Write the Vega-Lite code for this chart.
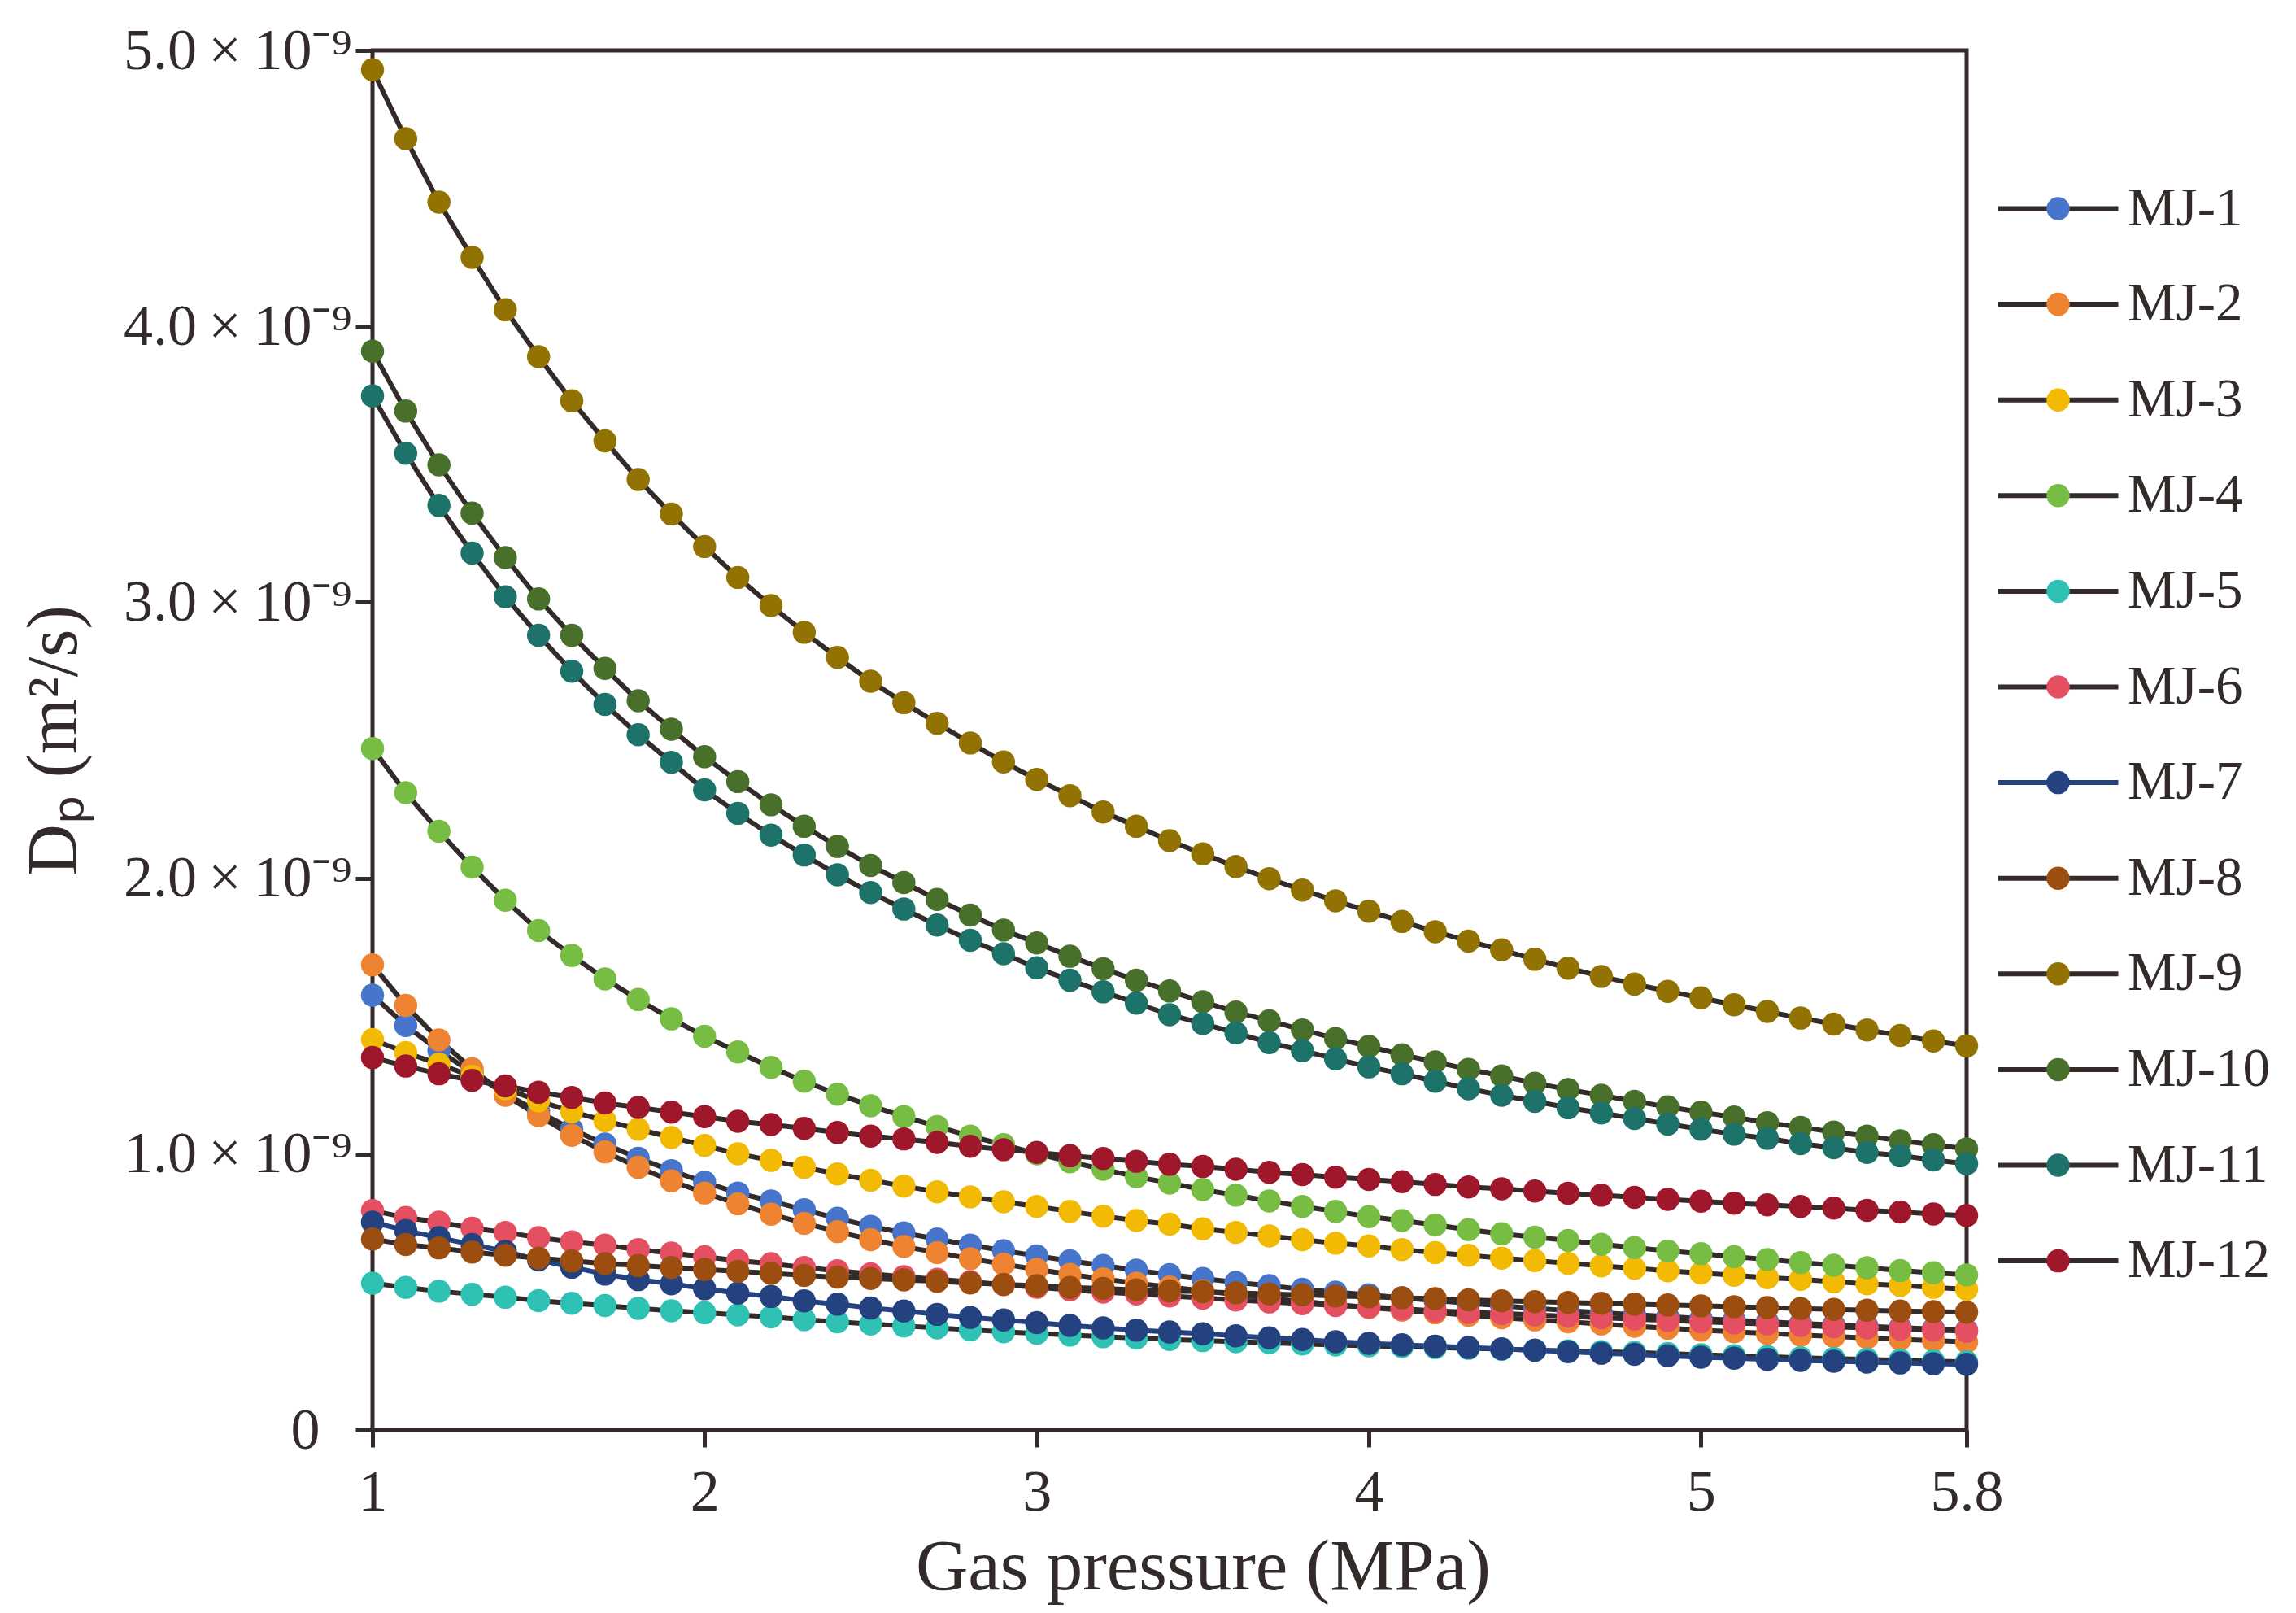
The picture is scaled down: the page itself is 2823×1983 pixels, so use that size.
{
  "$schema": "https://vega.github.io/schema/vega-lite/v6.json",
  "width": 1960,
  "height": 1696,
  "autosize": "none",
  "padding": {"left": 458, "top": 62, "right": 405, "bottom": 225},
  "background": "white",
  "config": {
    "font": "Liberation Serif",
    "view": {"stroke": "#332B2A", "strokeWidth": 5},
    "axis": {
      "domain": false,
      "grid": false,
      "tickColor": "#332B2A",
      "tickWidth": 5,
      "tickSize": 21,
      "labelFont": "Liberation Serif",
      "labelColor": "#332B2A",
      "labelFontSize": 72,
      "labelLimit": 0,
      "titleFont": "Liberation Serif",
      "titleColor": "#332B2A",
      "titleFontSize": 88,
      "titleFontWeight": "normal"
    },
    "legend": {
      "labelFont": "Liberation Serif",
      "labelColor": "#332B2A",
      "labelFontSize": 67,
      "labelLimit": 0,
      "padding": 0,
      "rowPadding": 49.6
    }
  },
  "data": {
    "values": [
      {"series":"MJ-1","pressure":1.0,"D":1.576e-9},{"series":"MJ-1","pressure":1.1,"D":1.466e-9},{"series":"MJ-1","pressure":1.2,"D":1.375e-9},{"series":"MJ-1","pressure":1.3,"D":1.295e-9},{"series":"MJ-1","pressure":1.4,"D":1.218e-9},{"series":"MJ-1","pressure":1.5,"D":1.154e-9},{"series":"MJ-1","pressure":1.6,"D":1.090e-9},{"series":"MJ-1","pressure":1.7,"D":1.036e-9},{"series":"MJ-1","pressure":1.8,"D":0.985e-9},{"series":"MJ-1","pressure":1.9,"D":0.940e-9},
      {"series":"MJ-1","pressure":2.0,"D":0.898e-9},{"series":"MJ-1","pressure":2.1,"D":0.859e-9},{"series":"MJ-1","pressure":2.2,"D":0.830e-9},{"series":"MJ-1","pressure":2.3,"D":0.798e-9},{"series":"MJ-1","pressure":2.4,"D":0.767e-9},{"series":"MJ-1","pressure":2.5,"D":0.738e-9},{"series":"MJ-1","pressure":2.6,"D":0.714e-9},{"series":"MJ-1","pressure":2.7,"D":0.692e-9},{"series":"MJ-1","pressure":2.8,"D":0.670e-9},{"series":"MJ-1","pressure":2.9,"D":0.650e-9},
      {"series":"MJ-1","pressure":3.0,"D":0.631e-9},{"series":"MJ-1","pressure":3.1,"D":0.613e-9},{"series":"MJ-1","pressure":3.2,"D":0.596e-9},{"series":"MJ-1","pressure":3.3,"D":0.579e-9},{"series":"MJ-1","pressure":3.4,"D":0.563e-9},{"series":"MJ-1","pressure":3.5,"D":0.549e-9},{"series":"MJ-1","pressure":3.6,"D":0.535e-9},{"series":"MJ-1","pressure":3.7,"D":0.523e-9},{"series":"MJ-1","pressure":3.8,"D":0.510e-9},{"series":"MJ-1","pressure":3.9,"D":0.500e-9},
      {"series":"MJ-1","pressure":4.0,"D":0.490e-9},{"series":"MJ-1","pressure":4.1,"D":0.479e-9},{"series":"MJ-1","pressure":4.2,"D":0.469e-9},{"series":"MJ-1","pressure":4.3,"D":0.459e-9},{"series":"MJ-1","pressure":4.4,"D":0.450e-9},{"series":"MJ-1","pressure":4.5,"D":0.441e-9},{"series":"MJ-1","pressure":4.6,"D":0.433e-9},{"series":"MJ-1","pressure":4.7,"D":0.425e-9},{"series":"MJ-1","pressure":4.8,"D":0.418e-9},{"series":"MJ-1","pressure":4.9,"D":0.411e-9},
      {"series":"MJ-1","pressure":5.0,"D":0.404e-9},{"series":"MJ-1","pressure":5.1,"D":0.398e-9},{"series":"MJ-1","pressure":5.2,"D":0.392e-9},{"series":"MJ-1","pressure":5.3,"D":0.386e-9},{"series":"MJ-1","pressure":5.4,"D":0.381e-9},{"series":"MJ-1","pressure":5.5,"D":0.376e-9},{"series":"MJ-1","pressure":5.6,"D":0.371e-9},{"series":"MJ-1","pressure":5.7,"D":0.366e-9},{"series":"MJ-1","pressure":5.8,"D":0.362e-9},

      {"series":"MJ-2","pressure":1.0,"D":1.686e-9},{"series":"MJ-2","pressure":1.1,"D":1.539e-9},{"series":"MJ-2","pressure":1.2,"D":1.414e-9},{"series":"MJ-2","pressure":1.3,"D":1.309e-9},{"series":"MJ-2","pressure":1.4,"D":1.213e-9},{"series":"MJ-2","pressure":1.5,"D":1.139e-9},{"series":"MJ-2","pressure":1.6,"D":1.068e-9},{"series":"MJ-2","pressure":1.7,"D":1.008e-9},{"series":"MJ-2","pressure":1.8,"D":0.952e-9},{"series":"MJ-2","pressure":1.9,"D":0.903e-9},
      {"series":"MJ-2","pressure":2.0,"D":0.859e-9},{"series":"MJ-2","pressure":2.1,"D":0.820e-9},{"series":"MJ-2","pressure":2.2,"D":0.782e-9},{"series":"MJ-2","pressure":2.3,"D":0.749e-9},{"series":"MJ-2","pressure":2.4,"D":0.719e-9},{"series":"MJ-2","pressure":2.5,"D":0.690e-9},{"series":"MJ-2","pressure":2.6,"D":0.665e-9},{"series":"MJ-2","pressure":2.7,"D":0.643e-9},{"series":"MJ-2","pressure":2.8,"D":0.621e-9},{"series":"MJ-2","pressure":2.9,"D":0.601e-9},
      {"series":"MJ-2","pressure":3.0,"D":0.582e-9},{"series":"MJ-2","pressure":3.1,"D":0.564e-9},{"series":"MJ-2","pressure":3.2,"D":0.548e-9},{"series":"MJ-2","pressure":3.3,"D":0.532e-9},{"series":"MJ-2","pressure":3.4,"D":0.518e-9},{"series":"MJ-2","pressure":3.5,"D":0.504e-9},{"series":"MJ-2","pressure":3.6,"D":0.491e-9},{"series":"MJ-2","pressure":3.7,"D":0.478e-9},{"series":"MJ-2","pressure":3.8,"D":0.466e-9},{"series":"MJ-2","pressure":3.9,"D":0.455e-9},
      {"series":"MJ-2","pressure":4.0,"D":0.444e-9},{"series":"MJ-2","pressure":4.1,"D":0.434e-9},{"series":"MJ-2","pressure":4.2,"D":0.425e-9},{"series":"MJ-2","pressure":4.3,"D":0.416e-9},{"series":"MJ-2","pressure":4.4,"D":0.407e-9},{"series":"MJ-2","pressure":4.5,"D":0.399e-9},{"series":"MJ-2","pressure":4.6,"D":0.392e-9},{"series":"MJ-2","pressure":4.7,"D":0.384e-9},{"series":"MJ-2","pressure":4.8,"D":0.376e-9},{"series":"MJ-2","pressure":4.9,"D":0.369e-9},
      {"series":"MJ-2","pressure":5.0,"D":0.362e-9},{"series":"MJ-2","pressure":5.1,"D":0.356e-9},{"series":"MJ-2","pressure":5.2,"D":0.350e-9},{"series":"MJ-2","pressure":5.3,"D":0.344e-9},{"series":"MJ-2","pressure":5.4,"D":0.339e-9},{"series":"MJ-2","pressure":5.5,"D":0.334e-9},{"series":"MJ-2","pressure":5.6,"D":0.329e-9},{"series":"MJ-2","pressure":5.7,"D":0.324e-9},{"series":"MJ-2","pressure":5.8,"D":0.319e-9},

      {"series":"MJ-3","pressure":1.0,"D":1.415e-9},{"series":"MJ-3","pressure":1.1,"D":1.368e-9},{"series":"MJ-3","pressure":1.2,"D":1.326e-9},{"series":"MJ-3","pressure":1.3,"D":1.282e-9},{"series":"MJ-3","pressure":1.4,"D":1.237e-9},{"series":"MJ-3","pressure":1.5,"D":1.193e-9},{"series":"MJ-3","pressure":1.6,"D":1.154e-9},{"series":"MJ-3","pressure":1.7,"D":1.121e-9},{"series":"MJ-3","pressure":1.8,"D":1.090e-9},{"series":"MJ-3","pressure":1.9,"D":1.060e-9},
      {"series":"MJ-3","pressure":2.0,"D":1.031e-9},{"series":"MJ-3","pressure":2.1,"D":1.001e-9},{"series":"MJ-3","pressure":2.2,"D":0.977e-9},{"series":"MJ-3","pressure":2.3,"D":0.952e-9},{"series":"MJ-3","pressure":2.4,"D":0.928e-9},{"series":"MJ-3","pressure":2.5,"D":0.905e-9},{"series":"MJ-3","pressure":2.6,"D":0.884e-9},{"series":"MJ-3","pressure":2.7,"D":0.863e-9},{"series":"MJ-3","pressure":2.8,"D":0.845e-9},{"series":"MJ-3","pressure":2.9,"D":0.827e-9},
      {"series":"MJ-3","pressure":3.0,"D":0.810e-9},{"series":"MJ-3","pressure":3.1,"D":0.792e-9},{"series":"MJ-3","pressure":3.2,"D":0.775e-9},{"series":"MJ-3","pressure":3.3,"D":0.759e-9},{"series":"MJ-3","pressure":3.4,"D":0.746e-9},{"series":"MJ-3","pressure":3.5,"D":0.729e-9},{"series":"MJ-3","pressure":3.6,"D":0.716e-9},{"series":"MJ-3","pressure":3.7,"D":0.703e-9},{"series":"MJ-3","pressure":3.8,"D":0.690e-9},{"series":"MJ-3","pressure":3.9,"D":0.677e-9},
      {"series":"MJ-3","pressure":4.0,"D":0.667e-9},{"series":"MJ-3","pressure":4.1,"D":0.654e-9},{"series":"MJ-3","pressure":4.2,"D":0.643e-9},{"series":"MJ-3","pressure":4.3,"D":0.633e-9},{"series":"MJ-3","pressure":4.4,"D":0.623e-9},{"series":"MJ-3","pressure":4.5,"D":0.614e-9},{"series":"MJ-3","pressure":4.6,"D":0.604e-9},{"series":"MJ-3","pressure":4.7,"D":0.595e-9},{"series":"MJ-3","pressure":4.8,"D":0.586e-9},{"series":"MJ-3","pressure":4.9,"D":0.577e-9},
      {"series":"MJ-3","pressure":5.0,"D":0.569e-9},{"series":"MJ-3","pressure":5.1,"D":0.561e-9},{"series":"MJ-3","pressure":5.2,"D":0.552e-9},{"series":"MJ-3","pressure":5.3,"D":0.546e-9},{"series":"MJ-3","pressure":5.4,"D":0.537e-9},{"series":"MJ-3","pressure":5.5,"D":0.530e-9},{"series":"MJ-3","pressure":5.6,"D":0.524e-9},{"series":"MJ-3","pressure":5.7,"D":0.517e-9},{"series":"MJ-3","pressure":5.8,"D":0.510e-9},

      {"series":"MJ-4","pressure":1.0,"D":2.470e-9},{"series":"MJ-4","pressure":1.1,"D":2.310e-9},{"series":"MJ-4","pressure":1.2,"D":2.170e-9},{"series":"MJ-4","pressure":1.3,"D":2.040e-9},{"series":"MJ-4","pressure":1.4,"D":1.920e-9},{"series":"MJ-4","pressure":1.5,"D":1.810e-9},{"series":"MJ-4","pressure":1.6,"D":1.720e-9},{"series":"MJ-4","pressure":1.7,"D":1.635e-9},{"series":"MJ-4","pressure":1.8,"D":1.560e-9},{"series":"MJ-4","pressure":1.9,"D":1.490e-9},
      {"series":"MJ-4","pressure":2.0,"D":1.427e-9},{"series":"MJ-4","pressure":2.1,"D":1.370e-9},{"series":"MJ-4","pressure":2.2,"D":1.314e-9},{"series":"MJ-4","pressure":2.3,"D":1.264e-9},{"series":"MJ-4","pressure":2.4,"D":1.217e-9},{"series":"MJ-4","pressure":2.5,"D":1.175e-9},{"series":"MJ-4","pressure":2.6,"D":1.136e-9},{"series":"MJ-4","pressure":2.7,"D":1.100e-9},{"series":"MJ-4","pressure":2.8,"D":1.065e-9},{"series":"MJ-4","pressure":2.9,"D":1.034e-9},
      {"series":"MJ-4","pressure":3.0,"D":1.001e-9},{"series":"MJ-4","pressure":3.1,"D":0.972e-9},{"series":"MJ-4","pressure":3.2,"D":0.945e-9},{"series":"MJ-4","pressure":3.3,"D":0.918e-9},{"series":"MJ-4","pressure":3.4,"D":0.895e-9},{"series":"MJ-4","pressure":3.5,"D":0.871e-9},{"series":"MJ-4","pressure":3.6,"D":0.851e-9},{"series":"MJ-4","pressure":3.7,"D":0.830e-9},{"series":"MJ-4","pressure":3.8,"D":0.810e-9},{"series":"MJ-4","pressure":3.9,"D":0.792e-9},
      {"series":"MJ-4","pressure":4.0,"D":0.773e-9},{"series":"MJ-4","pressure":4.1,"D":0.759e-9},{"series":"MJ-4","pressure":4.2,"D":0.743e-9},{"series":"MJ-4","pressure":4.3,"D":0.726e-9},{"series":"MJ-4","pressure":4.4,"D":0.711e-9},{"series":"MJ-4","pressure":4.5,"D":0.699e-9},{"series":"MJ-4","pressure":4.6,"D":0.687e-9},{"series":"MJ-4","pressure":4.7,"D":0.673e-9},{"series":"MJ-4","pressure":4.8,"D":0.661e-9},{"series":"MJ-4","pressure":4.9,"D":0.649e-9},
      {"series":"MJ-4","pressure":5.0,"D":0.639e-9},{"series":"MJ-4","pressure":5.1,"D":0.628e-9},{"series":"MJ-4","pressure":5.2,"D":0.618e-9},{"series":"MJ-4","pressure":5.3,"D":0.607e-9},{"series":"MJ-4","pressure":5.4,"D":0.597e-9},{"series":"MJ-4","pressure":5.5,"D":0.588e-9},{"series":"MJ-4","pressure":5.6,"D":0.578e-9},{"series":"MJ-4","pressure":5.7,"D":0.570e-9},{"series":"MJ-4","pressure":5.8,"D":0.562e-9},

      {"series":"MJ-5","pressure":1.0,"D":0.532e-9},{"series":"MJ-5","pressure":1.1,"D":0.517e-9},{"series":"MJ-5","pressure":1.2,"D":0.503e-9},{"series":"MJ-5","pressure":1.3,"D":0.492e-9},{"series":"MJ-5","pressure":1.4,"D":0.481e-9},{"series":"MJ-5","pressure":1.5,"D":0.469e-9},{"series":"MJ-5","pressure":1.6,"D":0.459e-9},{"series":"MJ-5","pressure":1.7,"D":0.451e-9},{"series":"MJ-5","pressure":1.8,"D":0.441e-9},{"series":"MJ-5","pressure":1.9,"D":0.432e-9},
      {"series":"MJ-5","pressure":2.0,"D":0.425e-9},{"series":"MJ-5","pressure":2.1,"D":0.417e-9},{"series":"MJ-5","pressure":2.2,"D":0.410e-9},{"series":"MJ-5","pressure":2.3,"D":0.400e-9},{"series":"MJ-5","pressure":2.4,"D":0.392e-9},{"series":"MJ-5","pressure":2.5,"D":0.384e-9},{"series":"MJ-5","pressure":2.6,"D":0.377e-9},{"series":"MJ-5","pressure":2.7,"D":0.370e-9},{"series":"MJ-5","pressure":2.8,"D":0.363e-9},{"series":"MJ-5","pressure":2.9,"D":0.356e-9},
      {"series":"MJ-5","pressure":3.0,"D":0.350e-9},{"series":"MJ-5","pressure":3.1,"D":0.344e-9},{"series":"MJ-5","pressure":3.2,"D":0.338e-9},{"series":"MJ-5","pressure":3.3,"D":0.333e-9},{"series":"MJ-5","pressure":3.4,"D":0.328e-9},{"series":"MJ-5","pressure":3.5,"D":0.324e-9},{"series":"MJ-5","pressure":3.6,"D":0.320e-9},{"series":"MJ-5","pressure":3.7,"D":0.316e-9},{"series":"MJ-5","pressure":3.8,"D":0.312e-9},{"series":"MJ-5","pressure":3.9,"D":0.308e-9},
      {"series":"MJ-5","pressure":4.0,"D":0.305e-9},{"series":"MJ-5","pressure":4.1,"D":0.302e-9},{"series":"MJ-5","pressure":4.2,"D":0.299e-9},{"series":"MJ-5","pressure":4.3,"D":0.296e-9},{"series":"MJ-5","pressure":4.4,"D":0.293e-9},{"series":"MJ-5","pressure":4.5,"D":0.290e-9},{"series":"MJ-5","pressure":4.6,"D":0.287e-9},{"series":"MJ-5","pressure":4.7,"D":0.284e-9},{"series":"MJ-5","pressure":4.8,"D":0.281e-9},{"series":"MJ-5","pressure":4.9,"D":0.277e-9},
      {"series":"MJ-5","pressure":5.0,"D":0.273e-9},{"series":"MJ-5","pressure":5.1,"D":0.269e-9},{"series":"MJ-5","pressure":5.2,"D":0.266e-9},{"series":"MJ-5","pressure":5.3,"D":0.262e-9},{"series":"MJ-5","pressure":5.4,"D":0.259e-9},{"series":"MJ-5","pressure":5.5,"D":0.256e-9},{"series":"MJ-5","pressure":5.6,"D":0.253e-9},{"series":"MJ-5","pressure":5.7,"D":0.250e-9},{"series":"MJ-5","pressure":5.8,"D":0.247e-9},

      {"series":"MJ-6","pressure":1.0,"D":0.795e-9},{"series":"MJ-6","pressure":1.1,"D":0.770e-9},{"series":"MJ-6","pressure":1.2,"D":0.753e-9},{"series":"MJ-6","pressure":1.3,"D":0.731e-9},{"series":"MJ-6","pressure":1.4,"D":0.716e-9},{"series":"MJ-6","pressure":1.5,"D":0.697e-9},{"series":"MJ-6","pressure":1.6,"D":0.682e-9},{"series":"MJ-6","pressure":1.7,"D":0.670e-9},{"series":"MJ-6","pressure":1.8,"D":0.654e-9},{"series":"MJ-6","pressure":1.9,"D":0.641e-9},
      {"series":"MJ-6","pressure":2.0,"D":0.628e-9},{"series":"MJ-6","pressure":2.1,"D":0.614e-9},{"series":"MJ-6","pressure":2.2,"D":0.603e-9},{"series":"MJ-6","pressure":2.3,"D":0.589e-9},{"series":"MJ-6","pressure":2.4,"D":0.577e-9},{"series":"MJ-6","pressure":2.5,"D":0.566e-9},{"series":"MJ-6","pressure":2.6,"D":0.556e-9},{"series":"MJ-6","pressure":2.7,"D":0.546e-9},{"series":"MJ-6","pressure":2.8,"D":0.537e-9},{"series":"MJ-6","pressure":2.9,"D":0.527e-9},
      {"series":"MJ-6","pressure":3.0,"D":0.517e-9},{"series":"MJ-6","pressure":3.1,"D":0.508e-9},{"series":"MJ-6","pressure":3.2,"D":0.500e-9},{"series":"MJ-6","pressure":3.3,"D":0.493e-9},{"series":"MJ-6","pressure":3.4,"D":0.486e-9},{"series":"MJ-6","pressure":3.5,"D":0.478e-9},{"series":"MJ-6","pressure":3.6,"D":0.471e-9},{"series":"MJ-6","pressure":3.7,"D":0.464e-9},{"series":"MJ-6","pressure":3.8,"D":0.458e-9},{"series":"MJ-6","pressure":3.9,"D":0.451e-9},
      {"series":"MJ-6","pressure":4.0,"D":0.446e-9},{"series":"MJ-6","pressure":4.1,"D":0.439e-9},{"series":"MJ-6","pressure":4.2,"D":0.432e-9},{"series":"MJ-6","pressure":4.3,"D":0.427e-9},{"series":"MJ-6","pressure":4.4,"D":0.422e-9},{"series":"MJ-6","pressure":4.5,"D":0.417e-9},{"series":"MJ-6","pressure":4.6,"D":0.412e-9},{"series":"MJ-6","pressure":4.7,"D":0.407e-9},{"series":"MJ-6","pressure":4.8,"D":0.402e-9},{"series":"MJ-6","pressure":4.9,"D":0.397e-9},
      {"series":"MJ-6","pressure":5.0,"D":0.392e-9},{"series":"MJ-6","pressure":5.1,"D":0.388e-9},{"series":"MJ-6","pressure":5.2,"D":0.384e-9},{"series":"MJ-6","pressure":5.3,"D":0.379e-9},{"series":"MJ-6","pressure":5.4,"D":0.374e-9},{"series":"MJ-6","pressure":5.5,"D":0.370e-9},{"series":"MJ-6","pressure":5.6,"D":0.366e-9},{"series":"MJ-6","pressure":5.7,"D":0.362e-9},{"series":"MJ-6","pressure":5.8,"D":0.358e-9},

      {"series":"MJ-7","pressure":1.0,"D":0.753e-9},{"series":"MJ-7","pressure":1.1,"D":0.723e-9},{"series":"MJ-7","pressure":1.2,"D":0.697e-9},{"series":"MJ-7","pressure":1.3,"D":0.672e-9},{"series":"MJ-7","pressure":1.4,"D":0.647e-9},{"series":"MJ-7","pressure":1.5,"D":0.616e-9},{"series":"MJ-7","pressure":1.6,"D":0.590e-9},{"series":"MJ-7","pressure":1.7,"D":0.565e-9},{"series":"MJ-7","pressure":1.8,"D":0.545e-9},{"series":"MJ-7","pressure":1.9,"D":0.530e-9},
      {"series":"MJ-7","pressure":2.0,"D":0.512e-9},{"series":"MJ-7","pressure":2.1,"D":0.496e-9},{"series":"MJ-7","pressure":2.2,"D":0.484e-9},{"series":"MJ-7","pressure":2.3,"D":0.468e-9},{"series":"MJ-7","pressure":2.4,"D":0.456e-9},{"series":"MJ-7","pressure":2.5,"D":0.442e-9},{"series":"MJ-7","pressure":2.6,"D":0.431e-9},{"series":"MJ-7","pressure":2.7,"D":0.419e-9},{"series":"MJ-7","pressure":2.8,"D":0.408e-9},{"series":"MJ-7","pressure":2.9,"D":0.399e-9},
      {"series":"MJ-7","pressure":3.0,"D":0.389e-9},{"series":"MJ-7","pressure":3.1,"D":0.379e-9},{"series":"MJ-7","pressure":3.2,"D":0.370e-9},{"series":"MJ-7","pressure":3.3,"D":0.362e-9},{"series":"MJ-7","pressure":3.4,"D":0.355e-9},{"series":"MJ-7","pressure":3.5,"D":0.349e-9},{"series":"MJ-7","pressure":3.6,"D":0.341e-9},{"series":"MJ-7","pressure":3.7,"D":0.334e-9},{"series":"MJ-7","pressure":3.8,"D":0.328e-9},{"series":"MJ-7","pressure":3.9,"D":0.320e-9},
      {"series":"MJ-7","pressure":4.0,"D":0.314e-9},{"series":"MJ-7","pressure":4.1,"D":0.309e-9},{"series":"MJ-7","pressure":4.2,"D":0.304e-9},{"series":"MJ-7","pressure":4.3,"D":0.299e-9},{"series":"MJ-7","pressure":4.4,"D":0.294e-9},{"series":"MJ-7","pressure":4.5,"D":0.289e-9},{"series":"MJ-7","pressure":4.6,"D":0.284e-9},{"series":"MJ-7","pressure":4.7,"D":0.278e-9},{"series":"MJ-7","pressure":4.8,"D":0.274e-9},{"series":"MJ-7","pressure":4.9,"D":0.269e-9},
      {"series":"MJ-7","pressure":5.0,"D":0.264e-9},{"series":"MJ-7","pressure":5.1,"D":0.260e-9},{"series":"MJ-7","pressure":5.2,"D":0.256e-9},{"series":"MJ-7","pressure":5.3,"D":0.252e-9},{"series":"MJ-7","pressure":5.4,"D":0.249e-9},{"series":"MJ-7","pressure":5.5,"D":0.246e-9},{"series":"MJ-7","pressure":5.6,"D":0.243e-9},{"series":"MJ-7","pressure":5.7,"D":0.240e-9},{"series":"MJ-7","pressure":5.8,"D":0.238e-9},

      {"series":"MJ-8","pressure":1.0,"D":0.692e-9},{"series":"MJ-8","pressure":1.1,"D":0.672e-9},{"series":"MJ-8","pressure":1.2,"D":0.660e-9},{"series":"MJ-8","pressure":1.3,"D":0.645e-9},{"series":"MJ-8","pressure":1.4,"D":0.633e-9},{"series":"MJ-8","pressure":1.5,"D":0.623e-9},{"series":"MJ-8","pressure":1.6,"D":0.613e-9},{"series":"MJ-8","pressure":1.7,"D":0.603e-9},{"series":"MJ-8","pressure":1.8,"D":0.596e-9},{"series":"MJ-8","pressure":1.9,"D":0.589e-9},
      {"series":"MJ-8","pressure":2.0,"D":0.582e-9},{"series":"MJ-8","pressure":2.1,"D":0.575e-9},{"series":"MJ-8","pressure":2.2,"D":0.568e-9},{"series":"MJ-8","pressure":2.3,"D":0.560e-9},{"series":"MJ-8","pressure":2.4,"D":0.554e-9},{"series":"MJ-8","pressure":2.5,"D":0.549e-9},{"series":"MJ-8","pressure":2.6,"D":0.544e-9},{"series":"MJ-8","pressure":2.7,"D":0.539e-9},{"series":"MJ-8","pressure":2.8,"D":0.533e-9},{"series":"MJ-8","pressure":2.9,"D":0.528e-9},
      {"series":"MJ-8","pressure":3.0,"D":0.523e-9},{"series":"MJ-8","pressure":3.1,"D":0.517e-9},{"series":"MJ-8","pressure":3.2,"D":0.513e-9},{"series":"MJ-8","pressure":3.3,"D":0.508e-9},{"series":"MJ-8","pressure":3.4,"D":0.504e-9},{"series":"MJ-8","pressure":3.5,"D":0.501e-9},{"series":"MJ-8","pressure":3.6,"D":0.497e-9},{"series":"MJ-8","pressure":3.7,"D":0.493e-9},{"series":"MJ-8","pressure":3.8,"D":0.490e-9},{"series":"MJ-8","pressure":3.9,"D":0.486e-9},
      {"series":"MJ-8","pressure":4.0,"D":0.483e-9},{"series":"MJ-8","pressure":4.1,"D":0.479e-9},{"series":"MJ-8","pressure":4.2,"D":0.476e-9},{"series":"MJ-8","pressure":4.3,"D":0.472e-9},{"series":"MJ-8","pressure":4.4,"D":0.468e-9},{"series":"MJ-8","pressure":4.5,"D":0.465e-9},{"series":"MJ-8","pressure":4.6,"D":0.462e-9},{"series":"MJ-8","pressure":4.7,"D":0.459e-9},{"series":"MJ-8","pressure":4.8,"D":0.456e-9},{"series":"MJ-8","pressure":4.9,"D":0.453e-9},
      {"series":"MJ-8","pressure":5.0,"D":0.450e-9},{"series":"MJ-8","pressure":5.1,"D":0.447e-9},{"series":"MJ-8","pressure":5.2,"D":0.444e-9},{"series":"MJ-8","pressure":5.3,"D":0.440e-9},{"series":"MJ-8","pressure":5.4,"D":0.437e-9},{"series":"MJ-8","pressure":5.5,"D":0.434e-9},{"series":"MJ-8","pressure":5.6,"D":0.431e-9},{"series":"MJ-8","pressure":5.7,"D":0.429e-9},{"series":"MJ-8","pressure":5.8,"D":0.427e-9},

      {"series":"MJ-9","pressure":1.0,"D":4.930e-9},{"series":"MJ-9","pressure":1.1,"D":4.680e-9},{"series":"MJ-9","pressure":1.2,"D":4.450e-9},{"series":"MJ-9","pressure":1.3,"D":4.250e-9},{"series":"MJ-9","pressure":1.4,"D":4.060e-9},{"series":"MJ-9","pressure":1.5,"D":3.890e-9},{"series":"MJ-9","pressure":1.6,"D":3.730e-9},{"series":"MJ-9","pressure":1.7,"D":3.585e-9},{"series":"MJ-9","pressure":1.8,"D":3.445e-9},{"series":"MJ-9","pressure":1.9,"D":3.320e-9},
      {"series":"MJ-9","pressure":2.0,"D":3.202e-9},{"series":"MJ-9","pressure":2.1,"D":3.090e-9},{"series":"MJ-9","pressure":2.2,"D":2.988e-9},{"series":"MJ-9","pressure":2.3,"D":2.891e-9},{"series":"MJ-9","pressure":2.4,"D":2.800e-9},{"series":"MJ-9","pressure":2.5,"D":2.714e-9},{"series":"MJ-9","pressure":2.6,"D":2.636e-9},{"series":"MJ-9","pressure":2.7,"D":2.561e-9},{"series":"MJ-9","pressure":2.8,"D":2.490e-9},{"series":"MJ-9","pressure":2.9,"D":2.421e-9},
      {"series":"MJ-9","pressure":3.0,"D":2.358e-9},{"series":"MJ-9","pressure":3.1,"D":2.299e-9},{"series":"MJ-9","pressure":3.2,"D":2.240e-9},{"series":"MJ-9","pressure":3.3,"D":2.188e-9},{"series":"MJ-9","pressure":3.4,"D":2.136e-9},{"series":"MJ-9","pressure":3.5,"D":2.088e-9},{"series":"MJ-9","pressure":3.6,"D":2.042e-9},{"series":"MJ-9","pressure":3.7,"D":1.998e-9},{"series":"MJ-9","pressure":3.8,"D":1.957e-9},{"series":"MJ-9","pressure":3.9,"D":1.918e-9},
      {"series":"MJ-9","pressure":4.0,"D":1.880e-9},{"series":"MJ-9","pressure":4.1,"D":1.843e-9},{"series":"MJ-9","pressure":4.2,"D":1.806e-9},{"series":"MJ-9","pressure":4.3,"D":1.772e-9},{"series":"MJ-9","pressure":4.4,"D":1.740e-9},{"series":"MJ-9","pressure":4.5,"D":1.706e-9},{"series":"MJ-9","pressure":4.6,"D":1.674e-9},{"series":"MJ-9","pressure":4.7,"D":1.644e-9},{"series":"MJ-9","pressure":4.8,"D":1.616e-9},{"series":"MJ-9","pressure":4.9,"D":1.590e-9},
      {"series":"MJ-9","pressure":5.0,"D":1.566e-9},{"series":"MJ-9","pressure":5.1,"D":1.541e-9},{"series":"MJ-9","pressure":5.2,"D":1.517e-9},{"series":"MJ-9","pressure":5.3,"D":1.493e-9},{"series":"MJ-9","pressure":5.4,"D":1.471e-9},{"series":"MJ-9","pressure":5.5,"D":1.450e-9},{"series":"MJ-9","pressure":5.6,"D":1.430e-9},{"series":"MJ-9","pressure":5.7,"D":1.410e-9},{"series":"MJ-9","pressure":5.8,"D":1.392e-9},

      {"series":"MJ-10","pressure":1.0,"D":3.910e-9},{"series":"MJ-10","pressure":1.1,"D":3.693e-9},{"series":"MJ-10","pressure":1.2,"D":3.498e-9},{"series":"MJ-10","pressure":1.3,"D":3.323e-9},{"series":"MJ-10","pressure":1.4,"D":3.162e-9},{"series":"MJ-10","pressure":1.5,"D":3.012e-9},{"series":"MJ-10","pressure":1.6,"D":2.880e-9},{"series":"MJ-10","pressure":1.7,"D":2.760e-9},{"series":"MJ-10","pressure":1.8,"D":2.643e-9},{"series":"MJ-10","pressure":1.9,"D":2.540e-9},
      {"series":"MJ-10","pressure":2.0,"D":2.440e-9},{"series":"MJ-10","pressure":2.1,"D":2.350e-9},{"series":"MJ-10","pressure":2.2,"D":2.266e-9},{"series":"MJ-10","pressure":2.3,"D":2.188e-9},{"series":"MJ-10","pressure":2.4,"D":2.115e-9},{"series":"MJ-10","pressure":2.5,"D":2.046e-9},{"series":"MJ-10","pressure":2.6,"D":1.984e-9},{"series":"MJ-10","pressure":2.7,"D":1.923e-9},{"series":"MJ-10","pressure":2.8,"D":1.866e-9},{"series":"MJ-10","pressure":2.9,"D":1.812e-9},
      {"series":"MJ-10","pressure":3.0,"D":1.765e-9},{"series":"MJ-10","pressure":3.1,"D":1.717e-9},{"series":"MJ-10","pressure":3.2,"D":1.672e-9},{"series":"MJ-10","pressure":3.3,"D":1.630e-9},{"series":"MJ-10","pressure":3.4,"D":1.591e-9},{"series":"MJ-10","pressure":3.5,"D":1.552e-9},{"series":"MJ-10","pressure":3.6,"D":1.515e-9},{"series":"MJ-10","pressure":3.7,"D":1.483e-9},{"series":"MJ-10","pressure":3.8,"D":1.450e-9},{"series":"MJ-10","pressure":3.9,"D":1.419e-9},
      {"series":"MJ-10","pressure":4.0,"D":1.390e-9},{"series":"MJ-10","pressure":4.1,"D":1.360e-9},{"series":"MJ-10","pressure":4.2,"D":1.334e-9},{"series":"MJ-10","pressure":4.3,"D":1.307e-9},{"series":"MJ-10","pressure":4.4,"D":1.283e-9},{"series":"MJ-10","pressure":4.5,"D":1.257e-9},{"series":"MJ-10","pressure":4.6,"D":1.234e-9},{"series":"MJ-10","pressure":4.7,"D":1.213e-9},{"series":"MJ-10","pressure":4.8,"D":1.191e-9},{"series":"MJ-10","pressure":4.9,"D":1.171e-9},
      {"series":"MJ-10","pressure":5.0,"D":1.152e-9},{"series":"MJ-10","pressure":5.1,"D":1.134e-9},{"series":"MJ-10","pressure":5.2,"D":1.114e-9},{"series":"MJ-10","pressure":5.3,"D":1.097e-9},{"series":"MJ-10","pressure":5.4,"D":1.080e-9},{"series":"MJ-10","pressure":5.5,"D":1.065e-9},{"series":"MJ-10","pressure":5.6,"D":1.048e-9},{"series":"MJ-10","pressure":5.7,"D":1.034e-9},{"series":"MJ-10","pressure":5.8,"D":1.019e-9},

      {"series":"MJ-11","pressure":1.0,"D":3.748e-9},{"series":"MJ-11","pressure":1.1,"D":3.540e-9},{"series":"MJ-11","pressure":1.2,"D":3.351e-9},{"series":"MJ-11","pressure":1.3,"D":3.178e-9},{"series":"MJ-11","pressure":1.4,"D":3.020e-9},{"series":"MJ-11","pressure":1.5,"D":2.880e-9},{"series":"MJ-11","pressure":1.6,"D":2.750e-9},{"series":"MJ-11","pressure":1.7,"D":2.630e-9},{"series":"MJ-11","pressure":1.8,"D":2.520e-9},{"series":"MJ-11","pressure":1.9,"D":2.420e-9},
      {"series":"MJ-11","pressure":2.0,"D":2.320e-9},{"series":"MJ-11","pressure":2.1,"D":2.235e-9},{"series":"MJ-11","pressure":2.2,"D":2.156e-9},{"series":"MJ-11","pressure":2.3,"D":2.084e-9},{"series":"MJ-11","pressure":2.4,"D":2.012e-9},{"series":"MJ-11","pressure":2.5,"D":1.948e-9},{"series":"MJ-11","pressure":2.6,"D":1.888e-9},{"series":"MJ-11","pressure":2.7,"D":1.830e-9},{"series":"MJ-11","pressure":2.8,"D":1.775e-9},{"series":"MJ-11","pressure":2.9,"D":1.726e-9},
      {"series":"MJ-11","pressure":3.0,"D":1.675e-9},{"series":"MJ-11","pressure":3.1,"D":1.630e-9},{"series":"MJ-11","pressure":3.2,"D":1.588e-9},{"series":"MJ-11","pressure":3.3,"D":1.547e-9},{"series":"MJ-11","pressure":3.4,"D":1.505e-9},{"series":"MJ-11","pressure":3.5,"D":1.473e-9},{"series":"MJ-11","pressure":3.6,"D":1.439e-9},{"series":"MJ-11","pressure":3.7,"D":1.404e-9},{"series":"MJ-11","pressure":3.8,"D":1.375e-9},{"series":"MJ-11","pressure":3.9,"D":1.345e-9},
      {"series":"MJ-11","pressure":4.0,"D":1.316e-9},{"series":"MJ-11","pressure":4.1,"D":1.291e-9},{"series":"MJ-11","pressure":4.2,"D":1.264e-9},{"series":"MJ-11","pressure":4.3,"D":1.237e-9},{"series":"MJ-11","pressure":4.4,"D":1.213e-9},{"series":"MJ-11","pressure":4.5,"D":1.191e-9},{"series":"MJ-11","pressure":4.6,"D":1.168e-9},{"series":"MJ-11","pressure":4.7,"D":1.149e-9},{"series":"MJ-11","pressure":4.8,"D":1.129e-9},{"series":"MJ-11","pressure":4.9,"D":1.109e-9},
      {"series":"MJ-11","pressure":5.0,"D":1.090e-9},{"series":"MJ-11","pressure":5.1,"D":1.072e-9},{"series":"MJ-11","pressure":5.2,"D":1.057e-9},{"series":"MJ-11","pressure":5.3,"D":1.038e-9},{"series":"MJ-11","pressure":5.4,"D":1.023e-9},{"series":"MJ-11","pressure":5.5,"D":1.006e-9},{"series":"MJ-11","pressure":5.6,"D":0.994e-9},{"series":"MJ-11","pressure":5.7,"D":0.979e-9},{"series":"MJ-11","pressure":5.8,"D":0.965e-9},

      {"series":"MJ-12","pressure":1.0,"D":1.350e-9},{"series":"MJ-12","pressure":1.1,"D":1.319e-9},{"series":"MJ-12","pressure":1.2,"D":1.291e-9},{"series":"MJ-12","pressure":1.3,"D":1.267e-9},{"series":"MJ-12","pressure":1.4,"D":1.247e-9},{"series":"MJ-12","pressure":1.5,"D":1.224e-9},{"series":"MJ-12","pressure":1.6,"D":1.205e-9},{"series":"MJ-12","pressure":1.7,"D":1.185e-9},{"series":"MJ-12","pressure":1.8,"D":1.169e-9},{"series":"MJ-12","pressure":1.9,"D":1.152e-9},
      {"series":"MJ-12","pressure":2.0,"D":1.136e-9},{"series":"MJ-12","pressure":2.1,"D":1.119e-9},{"series":"MJ-12","pressure":2.2,"D":1.107e-9},{"series":"MJ-12","pressure":2.3,"D":1.093e-9},{"series":"MJ-12","pressure":2.4,"D":1.078e-9},{"series":"MJ-12","pressure":2.5,"D":1.065e-9},{"series":"MJ-12","pressure":2.6,"D":1.055e-9},{"series":"MJ-12","pressure":2.7,"D":1.042e-9},{"series":"MJ-12","pressure":2.8,"D":1.028e-9},{"series":"MJ-12","pressure":2.9,"D":1.016e-9},
      {"series":"MJ-12","pressure":3.0,"D":1.006e-9},{"series":"MJ-12","pressure":3.1,"D":0.994e-9},{"series":"MJ-12","pressure":3.2,"D":0.984e-9},{"series":"MJ-12","pressure":3.3,"D":0.974e-9},{"series":"MJ-12","pressure":3.4,"D":0.963e-9},{"series":"MJ-12","pressure":3.5,"D":0.955e-9},{"series":"MJ-12","pressure":3.6,"D":0.945e-9},{"series":"MJ-12","pressure":3.7,"D":0.934e-9},{"series":"MJ-12","pressure":3.8,"D":0.926e-9},{"series":"MJ-12","pressure":3.9,"D":0.916e-9},
      {"series":"MJ-12","pressure":4.0,"D":0.908e-9},{"series":"MJ-12","pressure":4.1,"D":0.900e-9},{"series":"MJ-12","pressure":4.2,"D":0.890e-9},{"series":"MJ-12","pressure":4.3,"D":0.881e-9},{"series":"MJ-12","pressure":4.4,"D":0.874e-9},{"series":"MJ-12","pressure":4.5,"D":0.866e-9},{"series":"MJ-12","pressure":4.6,"D":0.858e-9},{"series":"MJ-12","pressure":4.7,"D":0.851e-9},{"series":"MJ-12","pressure":4.8,"D":0.843e-9},{"series":"MJ-12","pressure":4.9,"D":0.836e-9},
      {"series":"MJ-12","pressure":5.0,"D":0.829e-9},{"series":"MJ-12","pressure":5.1,"D":0.822e-9},{"series":"MJ-12","pressure":5.2,"D":0.816e-9},{"series":"MJ-12","pressure":5.3,"D":0.810e-9},{"series":"MJ-12","pressure":5.4,"D":0.804e-9},{"series":"MJ-12","pressure":5.5,"D":0.796e-9},{"series":"MJ-12","pressure":5.6,"D":0.790e-9},{"series":"MJ-12","pressure":5.7,"D":0.783e-9},{"series":"MJ-12","pressure":5.8,"D":0.777e-9}
    ]
  },
  "encoding": {
    "x": {
      "field": "pressure",
      "type": "quantitative",
      "scale": {"domain": [1, 5.8], "nice": false, "zero": false},
      "axis": {
        "title": "Gas pressure (MPa)",
        "values": [1, 2, 3, 4, 5, 5.8],
        "labelExpr": "'' + datum.value",
        "labelFlush": false,
        "labelPadding": 20,
        "titleFontSize": 89,
        "titleAlign": "center",
        "titleBaseline": "alphabetic",
        "titleX": 1021,
        "titleY": 195
      }
    },
    "y": {
      "field": "D",
      "type": "quantitative",
      "scale": {"domain": [0, 5e-9], "nice": false},
      "axis": {
        "title": "Dₚ (m²/s)",
        "values": [0, 1e-9, 2e-9, 3e-9, 4e-9, 5e-9],
        "labelExpr": "datum.value == 0 ? '0' : format(datum.value * 1e9, '.1f') + '\u2009×\u200910⁻⁹'",
        "labelFlush": false,
        "labelPadding": {"condition": {"test": "datum.value == 0", "value": 44}, "value": 5},
        "titleAngle": -90,
        "titleAlign": "center",
        "titleBaseline": "alphabetic",
        "titleX": -365,
        "titleY": 848
      }
    }
  },
  "layer": [
    {
      "mark": {"type": "line", "strokeWidth": 6},
      "encoding": {
        "stroke": {
          "field": "series",
          "type": "nominal",
          "sort": ["MJ-1", "MJ-2", "MJ-3", "MJ-4", "MJ-5", "MJ-6", "MJ-7", "MJ-8", "MJ-9", "MJ-10", "MJ-11", "MJ-12"],
          "scale": {"range": ["#332B2A", "#332B2A", "#332B2A", "#332B2A", "#332B2A", "#332B2A", "#23427F", "#332B2A", "#332B2A", "#332B2A", "#332B2A", "#332B2A"]},
          "legend": {
            "title": null,
            "orient": "none",
            "legendX": 2039,
            "legendY": 161,
            "symbolType": "M-5.2,0H5.2",
            "symbolSize": 810,
            "symbolStrokeWidth": 6,
            "labelOffset": 52
          }
        }
      }
    },
    {
      "mark": {"type": "circle", "size": 810, "opacity": 1},
      "encoding": {
        "fill": {
          "field": "series",
          "type": "nominal",
          "scale": {
            "domain": ["MJ-1", "MJ-2", "MJ-3", "MJ-4", "MJ-5", "MJ-6", "MJ-7", "MJ-8", "MJ-9", "MJ-10", "MJ-11", "MJ-12"],
            "range": ["#4675CB", "#EE8332", "#F2BA02", "#77BC43", "#2FC1B3", "#E54F62", "#23427F", "#9C4E10", "#917203", "#48702A", "#1D726A", "#9F172A"]
          },
          "legend": {
            "title": null,
            "orient": "none",
            "legendX": 2039,
            "legendY": 161,
            "symbolType": "circle",
            "symbolSize": 810,
            "symbolOpacity": 1,
            "labelExpr": "''"
          }
        }
      }
    }
  ]
}
